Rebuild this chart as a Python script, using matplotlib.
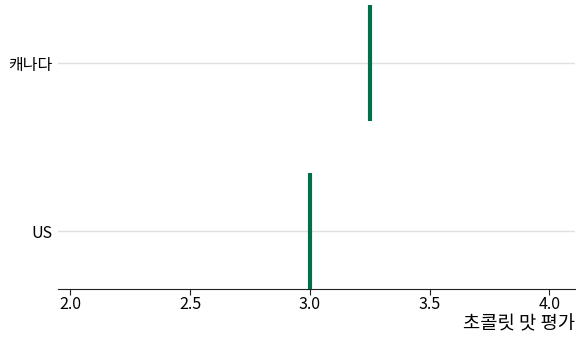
import matplotlib
matplotlib.use("Agg")
import matplotlib.pyplot as plt

plt.rcParams['font.family'] = ['Noto Sans CJK KR', 'DejaVu Sans']

# data
countries = ['US', '캐나다']
ratings = [3.0, 3.25]
x_ticks = [2.0, 2.5, 3.0, 3.5, 4.0]

fig = plt.figure(figsize=(5.76, 3.45), dpi=100)
ax = fig.add_axes([0.1007, 0.162, 0.897, 0.838])

ypos = list(range(len(countries)))
half = 0.345
for y, r in zip(ypos, ratings):
    ax.vlines(r, y - half, y + half, color='#00704A', linewidth=3.0, zorder=3)

ax.set_xlim(1.948, 4.106)
ax.set_ylim(-0.345, 1.375)
ax.set_yticks(ypos)
ax.set_yticklabels(countries, fontsize=11.5)
ax.set_xticks(x_ticks)
ax.set_xticklabels([f'{t:.1f}' for t in x_ticks], fontsize=11.5)

ax.grid(axis='y', color='#e0e0e0', linewidth=1.0)
ax.set_axisbelow(True)
for side in ['top', 'right', 'left']:
    ax.spines[side].set_visible(False)
ax.spines['bottom'].set_color('#222222')
ax.tick_params(axis='y', length=0, pad=4)
ax.tick_params(axis='x', length=4, color='#222222', pad=1)

ax.set_xlabel('초콜릿 맛 평가', fontsize=13.5, loc='right', labelpad=0)

fig.savefig('out.png', dpi=100)
